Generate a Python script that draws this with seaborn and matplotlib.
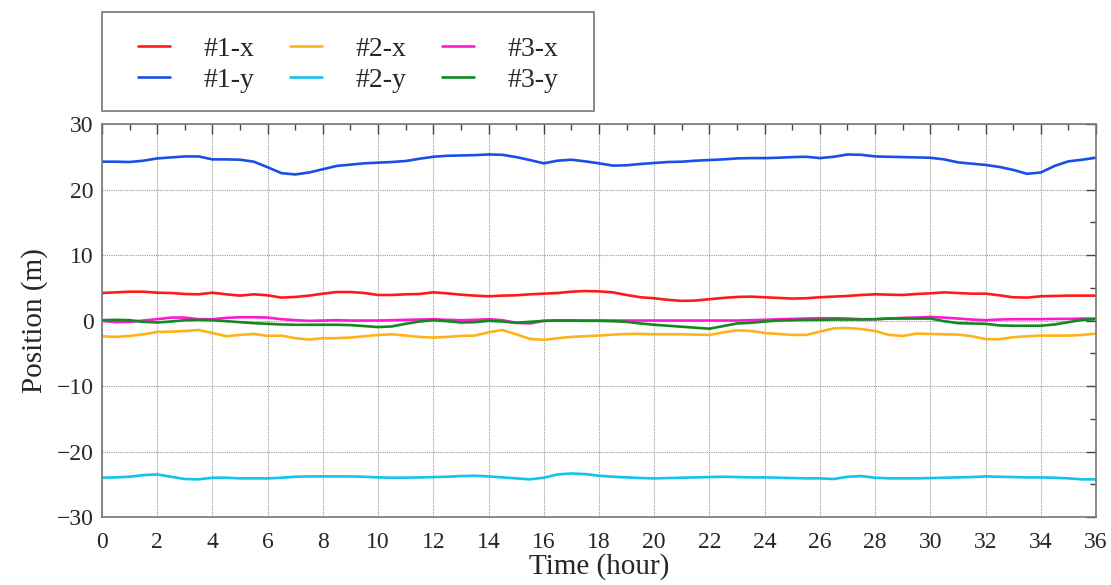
import numpy as np
import pandas as pd
import matplotlib
matplotlib.use("Agg")
import matplotlib.pyplot as plt
from matplotlib.ticker import MultipleLocator
import seaborn as sns

hours = [i * 0.5 for i in range(73)]

p1_x = [4.2, 4.3, 4.4, 4.4, 4.25, 4.2, 4.05, 4.0, 4.25, 4.0, 3.8, 4.0, 3.85, 3.5, 3.6, 3.8,
        4.1, 4.35, 4.35, 4.2, 3.9, 3.9, 4.0, 4.05, 4.3, 4.15, 3.95, 3.8, 3.7, 3.8, 3.85, 4.0,
        4.1, 4.2, 4.4, 4.5, 4.45, 4.3, 3.9, 3.55, 3.4, 3.15, 3.0, 3.05, 3.25, 3.45, 3.6, 3.65,
        3.55, 3.45, 3.35, 3.4, 3.55, 3.65, 3.75, 3.9, 4.0, 3.95, 3.9, 4.05, 4.15, 4.3, 4.2, 4.1,
        4.1, 3.85, 3.55, 3.5, 3.7, 3.75, 3.8, 3.8, 3.8]
p1_y = [24.25, 24.25, 24.2, 24.4, 24.75, 24.9, 25.05, 25.05, 24.6, 24.6, 24.55, 24.25, 23.4,
        22.5, 22.3, 22.6, 23.1, 23.6, 23.8, 24.0, 24.1, 24.2, 24.35, 24.7, 25.0, 25.15, 25.2,
        25.25, 25.35, 25.3, 24.95, 24.5, 24.0, 24.4, 24.55, 24.3, 24.0, 23.65, 23.7, 23.9, 24.05,
        24.2, 24.25, 24.4, 24.5, 24.6, 24.75, 24.8, 24.8, 24.85, 24.95, 25.0, 24.8, 25.0, 25.35,
        25.3, 25.05, 25.0, 24.95, 24.9, 24.85, 24.6, 24.15, 23.95, 23.75, 23.45, 23.0, 22.4, 22.6,
        23.6, 24.3, 24.55, 24.85]
p2_x = [-2.4, -2.5, -2.35, -2.1, -1.75, -1.7, -1.6, -1.45, -1.9, -2.4, -2.2, -2.05, -2.35, -2.3,
        -2.7, -2.9, -2.7, -2.7, -2.6, -2.4, -2.2, -2.1, -2.3, -2.5, -2.6, -2.5, -2.35, -2.3, -1.8,
        -1.45, -2.1, -2.8, -2.95, -2.7, -2.5, -2.4, -2.3, -2.15, -2.05, -2.05, -2.1, -2.1, -2.1,
        -2.15, -2.2, -1.8, -1.5, -1.6, -1.9, -2.05, -2.2, -2.2, -1.7, -1.2, -1.15, -1.3, -1.6,
        -2.2, -2.35, -2.0, -2.05, -2.1, -2.15, -2.4, -2.85, -2.85, -2.55, -2.4, -2.3, -2.3, -2.3,
        -2.2, -2.0]
p2_y = [-24.0, -23.95, -23.85, -23.6, -23.5, -23.85, -24.2, -24.25, -24.0, -24.0, -24.1, -24.1,
        -24.1, -24.0, -23.85, -23.8, -23.8, -23.8, -23.8, -23.85, -23.95, -24.0, -24.0, -23.95,
        -23.9, -23.85, -23.75, -23.7, -23.8, -23.95, -24.1, -24.25, -24.0, -23.5, -23.35, -23.45,
        -23.7, -23.85, -23.95, -24.05, -24.1, -24.05, -24.0, -23.95, -23.9, -23.85, -23.9, -23.95,
        -23.95, -24.0, -24.05, -24.1, -24.1, -24.2, -23.85, -23.75, -24.0, -24.1, -24.1, -24.1,
        -24.05, -24.0, -23.95, -23.9, -23.8, -23.85, -23.9, -23.95, -23.95, -24.0, -24.1, -24.25,
        -24.25]
p3_x = [-0.05, -0.25, -0.2, 0.0, 0.2, 0.45, 0.45, 0.2, 0.2, 0.4, 0.5, 0.5, 0.45, 0.2, 0.05, -0.05,
        0.0, 0.05, 0.0, 0.0, 0.0, 0.05, 0.1, 0.15, 0.2, 0.1, 0.05, 0.1, 0.2, 0.05, -0.35, -0.45,
        -0.05, 0.0, 0.0, 0.0, 0.0, 0.0, 0.0, 0.0, 0.0, 0.0, 0.0, 0.0, 0.0, 0.0, 0.0, 0.05, 0.1,
        0.2, 0.25, 0.3, 0.35, 0.35, 0.3, 0.2, 0.2, 0.3, 0.4, 0.45, 0.55, 0.45, 0.3, 0.15, 0.05,
        0.15, 0.2, 0.2, 0.2, 0.25, 0.25, 0.3, 0.3]
p3_y = [0.05, 0.1, 0.05, -0.2, -0.3, -0.15, 0.05, 0.1, 0.05, -0.1, -0.25, -0.4, -0.5, -0.6, -0.65,
        -0.65, -0.65, -0.65, -0.7, -0.85, -1.0, -0.9, -0.5, -0.15, 0.05, -0.1, -0.3, -0.25, -0.05,
        -0.15, -0.35, -0.2, -0.05, 0.0, 0.0, -0.05, -0.05, -0.1, -0.2, -0.45, -0.65, -0.8, -0.95,
        -1.1, -1.25, -0.85, -0.45, -0.35, -0.15, 0.0, 0.05, 0.1, 0.1, 0.15, 0.15, 0.15, 0.2, 0.3,
        0.3, 0.3, 0.3, -0.1, -0.4, -0.45, -0.5, -0.75, -0.8, -0.8, -0.8, -0.6, -0.25, 0.1, 0.2]

series_names = ["#1-x", "#1-y", "#2-x", "#2-y", "#3-x", "#3-y"]
series_vals = [p1_x, p1_y, p2_x, p2_y, p3_x, p3_y]
colors = ["#ff1a1a", "#1a4fe6", "#ffb31a", "#12c3ee", "#ff1ad1", "#0f8a1f"]

df = pd.concat([pd.DataFrame({"Time": hours, "Position": v, "series": n})
                for n, v in zip(series_names, series_vals)], ignore_index=True)

sns.set_theme(style="white")
plt.rcParams["font.family"] = ["Liberation Serif", "DejaVu Serif"]

fig = plt.figure(figsize=(11.11, 5.85), dpi=100)
ax = fig.add_axes([0.0918, 0.1162, 0.8947, 0.6718])

sns.lineplot(data=df, x="Time", y="Position", hue="series", hue_order=series_names,
             palette=dict(zip(series_names, colors)), linewidth=1.9, ax=ax, legend=False)

ax.set_xlim(0, 36)
ax.set_ylim(-30, 30)
ax.xaxis.set_major_locator(MultipleLocator(2))
ax.xaxis.set_minor_locator(MultipleLocator(1))
ax.yaxis.set_major_locator(MultipleLocator(10))
ax.yaxis.set_minor_locator(MultipleLocator(5))
ax.tick_params(which="both", direction="in", top=True, right=True, color="#444444",
               labelsize=17)
ax.tick_params(axis="x", which="major", pad=11)
ax.tick_params(axis="y", which="major", pad=6)
ax.tick_params(which="major", length=7, width=1)
ax.tick_params(which="minor", length=4, width=1)
ax.grid(True, which="major", linestyle=(0, (1, 1)), color="#999999", linewidth=0.8)
for s in ax.spines.values():
    s.set_color("#777777")
    s.set_linewidth(1.2)
ax.set_xlabel("Time (hour)", fontsize=21, labelpad=0)
ax.set_ylabel("Position (m)", fontsize=21, labelpad=6)
ax.set_yticks([-30, -20, -10, 0, 10, 20, 30])
ax.set_yticklabels(["\u221230", "\u221220", "\u221210", "0", "10", "20", "30"])

handles = [plt.Line2D([], [], color=c, lw=1.9) for c in colors]
leg = fig.legend(handles, series_names, ncol=3, loc="center",
                 bbox_to_anchor=(0.0918, 0.805, 0.443, 0.169),
                 fontsize=20, frameon=False,
                 handlelength=1.15, handletextpad=1.2, columnspacing=1.3,
                 labelspacing=0.2, borderaxespad=0)
fig.patches.append(plt.Rectangle((0.0918, 0.810), 0.443, 0.169, transform=fig.transFigure,
                                 fill=False, edgecolor="#777777", linewidth=1.2))

fig.savefig("out.png", dpi=100)
